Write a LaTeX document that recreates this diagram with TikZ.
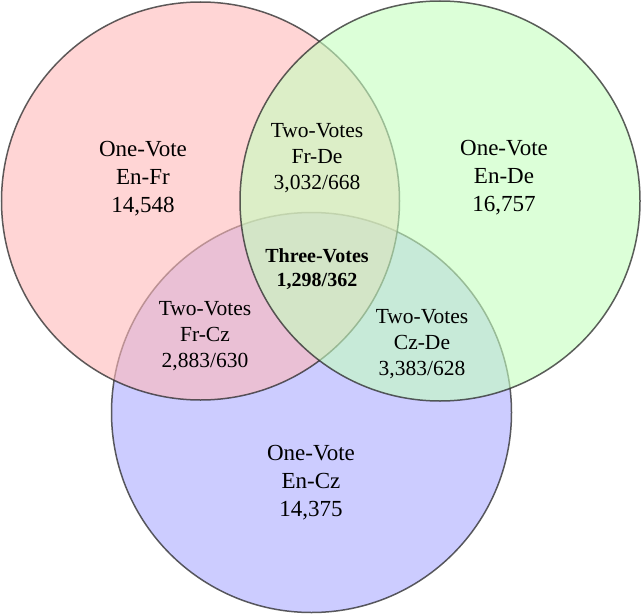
\documentclass[tikz,border=0pt]{standalone}
\usepackage{fontspec}
\setmainfont{Liberation Serif}
\definecolor{cred}{RGB}{255,185,185}
\definecolor{cgreen}{RGB}{197,255,190}
\definecolor{cblue}{RGB}{170,170,255}
\definecolor{cline}{RGB}{40,40,40}
\begin{document}
\begin{tikzpicture}[x=1pt,y=-1pt,
  setc/.style={draw=cline,line width=1.5pt,draw opacity=0.75,fill opacity=0.6},
  big/.style={align=center,font=\fontsize{23}{28}\selectfont,inner sep=0pt},
  small/.style={align=center,font=\fontsize{21.5}{26}\selectfont,inner sep=0pt},
  bold/.style={align=center,font=\fontsize{20}{24.5}\selectfont\bfseries,inner sep=0pt}]
\useasboundingbox (0,0) rectangle (642,615);
\fill[white] (0,0) rectangle (642,615);
\node[setc,fill=cblue,circle,minimum size=400pt,inner sep=0pt] (cz) at (311.5,412.5) {};
\node[setc,fill=cred,circle,minimum size=398pt,inner sep=0pt] (fr) at (200.5,201) {};
\node[setc,fill=cgreen,circle,minimum size=400pt,inner sep=0pt] (de) at (440,201) {};
\node[big] (enfr) at (143,179) {One-Vote\\En-Fr\\14,548};
\node[big] (ende) at (504,178) {One-Vote\\En-De\\16,757};
\node[big] (encz) at (311,483) {One-Vote\\En-Cz\\14,375};
\node[small] (frde) at (317,158) {Two-Votes\\Fr-De\\3,032/668};
\node[small] (frcz) at (205,336) {Two-Votes\\Fr-Cz\\2,883/630};
\node[small] (czde) at (422,344) {Two-Votes\\Cz-De\\3,383/628};
\node[bold] (three) at (317,269) {Three-Votes\\1,298/362};
\end{tikzpicture}
\end{document}
